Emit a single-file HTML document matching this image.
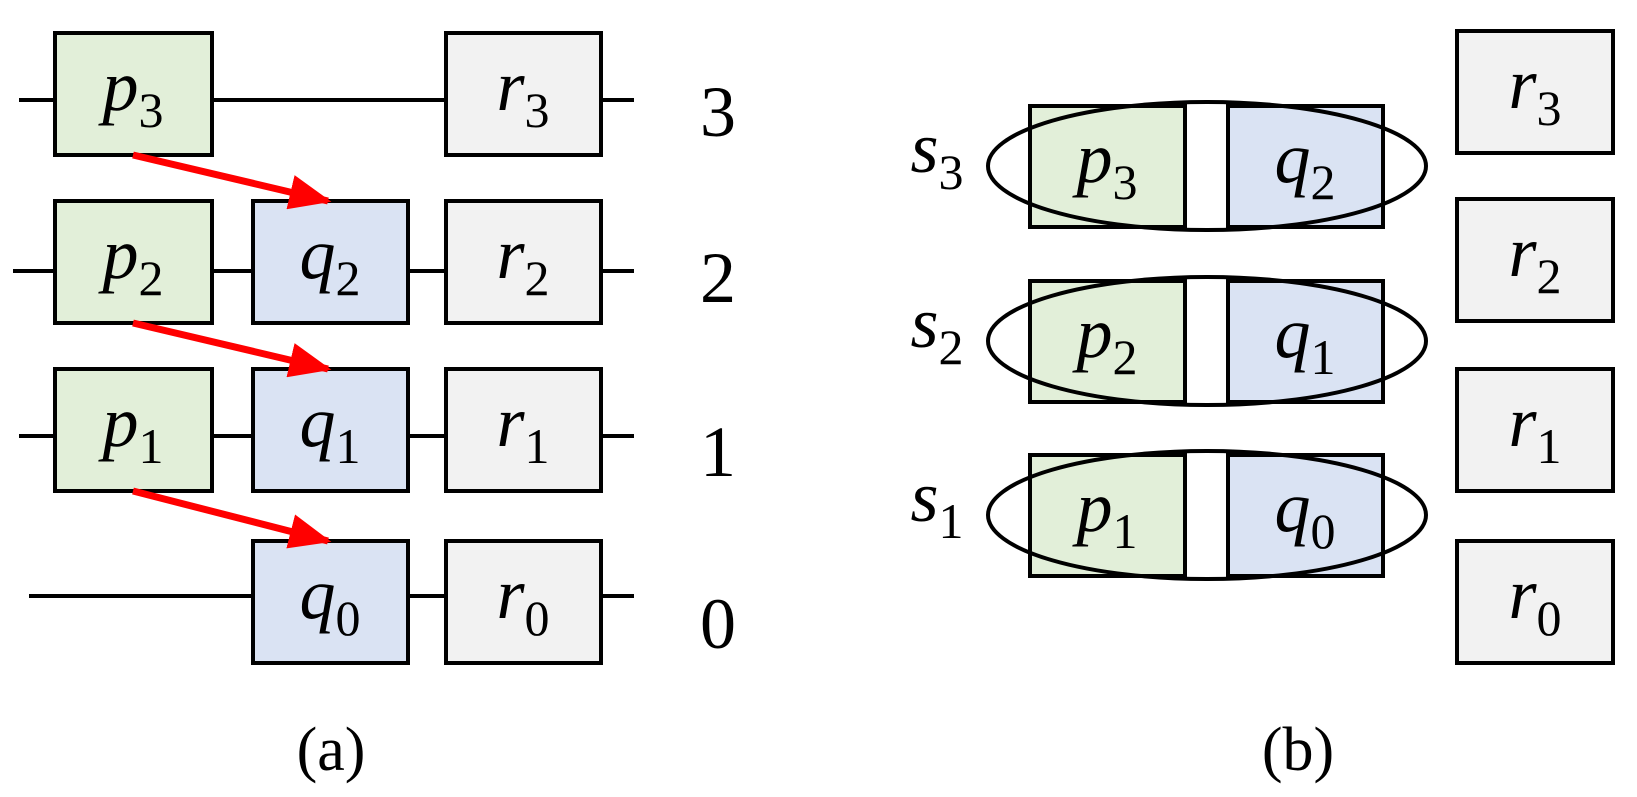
<!DOCTYPE html>
<html><head><meta charset="utf-8"><style>html,body{margin:0;padding:0;background:#fff}svg{display:block}</style></head>
<body>
<svg width="1637" height="797" viewBox="0 0 1637 797" xmlns="http://www.w3.org/2000/svg" font-family="Liberation Serif, serif">
<defs>
<marker id="ah" markerWidth="6" markerHeight="5" refX="5.5" refY="2.5" orient="auto" markerUnits="strokeWidth">
<path d="M0,0 L6,2.5 L0,5 Z" fill="#ff0000"/>
</marker>
</defs>
<g stroke="#000" stroke-width="4">
<!-- lines -->
<line x1="19" y1="100" x2="634" y2="100"/>
<line x1="13" y1="271" x2="634" y2="271"/>
<line x1="19" y1="436" x2="634" y2="436"/>
<line x1="29" y1="596" x2="634" y2="596"/>
<!-- left boxes -->
<rect x="55" y="33" width="157" height="122" fill="#e2efd9"/>
<rect x="446" y="33" width="155" height="122" fill="#f2f2f2"/>
<rect x="55" y="201" width="157" height="122" fill="#e2efd9"/>
<rect x="253" y="201" width="155" height="122" fill="#dae3f3"/>
<rect x="446" y="201" width="155" height="122" fill="#f2f2f2"/>
<rect x="55" y="369" width="157" height="122" fill="#e2efd9"/>
<rect x="253" y="369" width="155" height="122" fill="#dae3f3"/>
<rect x="446" y="369" width="155" height="122" fill="#f2f2f2"/>
<rect x="253" y="541" width="155" height="122" fill="#dae3f3"/>
<rect x="446" y="541" width="155" height="122" fill="#f2f2f2"/>
<!-- right boxes -->
<rect x="1457" y="31" width="156" height="122" fill="#f2f2f2"/>
<rect x="1457" y="199" width="156" height="122" fill="#f2f2f2"/>
<rect x="1457" y="369" width="156" height="122" fill="#f2f2f2"/>
<rect x="1457" y="541" width="156" height="122" fill="#f2f2f2"/>
<rect x="1030" y="106" width="155" height="121" fill="#e2efd9"/>
<rect x="1228" y="106" width="155" height="121" fill="#dae3f3"/>
<rect x="1030" y="281" width="155" height="121" fill="#e2efd9"/>
<rect x="1228" y="281" width="155" height="121" fill="#dae3f3"/>
<rect x="1030" y="455" width="155" height="121" fill="#e2efd9"/>
<rect x="1228" y="455" width="155" height="121" fill="#dae3f3"/>
<g fill="none">
<ellipse cx="1207" cy="166" rx="219" ry="64"/>
<ellipse cx="1207" cy="341" rx="219" ry="64"/>
<ellipse cx="1207" cy="515" rx="219" ry="64"/>
</g>
</g>
<!-- arrows -->
<g stroke="#ff0000" stroke-width="7" fill="none">
<line x1="133" y1="155" x2="328" y2="201" marker-end="url(#ah)"/>
<line x1="133" y1="323" x2="328" y2="369" marker-end="url(#ah)"/>
<line x1="133" y1="491" x2="328" y2="541" marker-end="url(#ah)"/>
</g>
<!-- labels -->
<g font-size="72" fill="#000" text-anchor="middle">
<text x="133" y="110"><tspan font-style="italic">p</tspan><tspan font-size="50" dy="17">3</tspan></text>
<text x="523" y="110"><tspan font-style="italic">r</tspan><tspan font-size="50" dy="17">3</tspan></text>
<text x="133" y="278"><tspan font-style="italic">p</tspan><tspan font-size="50" dy="17">2</tspan></text>
<text x="330" y="278"><tspan font-style="italic">q</tspan><tspan font-size="50" dy="17">2</tspan></text>
<text x="523" y="278"><tspan font-style="italic">r</tspan><tspan font-size="50" dy="17">2</tspan></text>
<text x="133" y="446"><tspan font-style="italic">p</tspan><tspan font-size="50" dy="17">1</tspan></text>
<text x="330" y="446"><tspan font-style="italic">q</tspan><tspan font-size="50" dy="17">1</tspan></text>
<text x="523" y="446"><tspan font-style="italic">r</tspan><tspan font-size="50" dy="17">1</tspan></text>
<text x="330" y="618"><tspan font-style="italic">q</tspan><tspan font-size="50" dy="17">0</tspan></text>
<text x="523" y="618"><tspan font-style="italic">r</tspan><tspan font-size="50" dy="17">0</tspan></text>

<text x="1535" y="108"><tspan font-style="italic">r</tspan><tspan font-size="50" dy="17">3</tspan></text>
<text x="1535" y="276"><tspan font-style="italic">r</tspan><tspan font-size="50" dy="17">2</tspan></text>
<text x="1535" y="446"><tspan font-style="italic">r</tspan><tspan font-size="50" dy="17">1</tspan></text>
<text x="1535" y="618"><tspan font-style="italic">r</tspan><tspan font-size="50" dy="17">0</tspan></text>

<text x="1107" y="182"><tspan font-style="italic">p</tspan><tspan font-size="50" dy="17">3</tspan></text>
<text x="1305" y="182"><tspan font-style="italic">q</tspan><tspan font-size="50" dy="17">2</tspan></text>
<text x="1107" y="357"><tspan font-style="italic">p</tspan><tspan font-size="50" dy="17">2</tspan></text>
<text x="1305" y="357"><tspan font-style="italic">q</tspan><tspan font-size="50" dy="17">1</tspan></text>
<text x="1107" y="531"><tspan font-style="italic">p</tspan><tspan font-size="50" dy="17">1</tspan></text>
<text x="1305" y="531"><tspan font-style="italic">q</tspan><tspan font-size="50" dy="17">0</tspan></text>

<text x="937" y="172"><tspan font-style="italic">s</tspan><tspan font-size="50" dy="17">3</tspan></text>
<text x="937" y="347"><tspan font-style="italic">s</tspan><tspan font-size="50" dy="17">2</tspan></text>
<text x="937" y="521"><tspan font-style="italic">s</tspan><tspan font-size="50" dy="17">1</tspan></text>

<text x="718" y="136">3</text>
<text x="718" y="302">2</text>
<text x="718" y="476">1</text>
<text x="718" y="648">0</text>

<text x="331" y="770" font-size="62">(a)</text>
<text x="1298" y="770" font-size="62">(b)</text>
</g>
</svg>
</body></html>
